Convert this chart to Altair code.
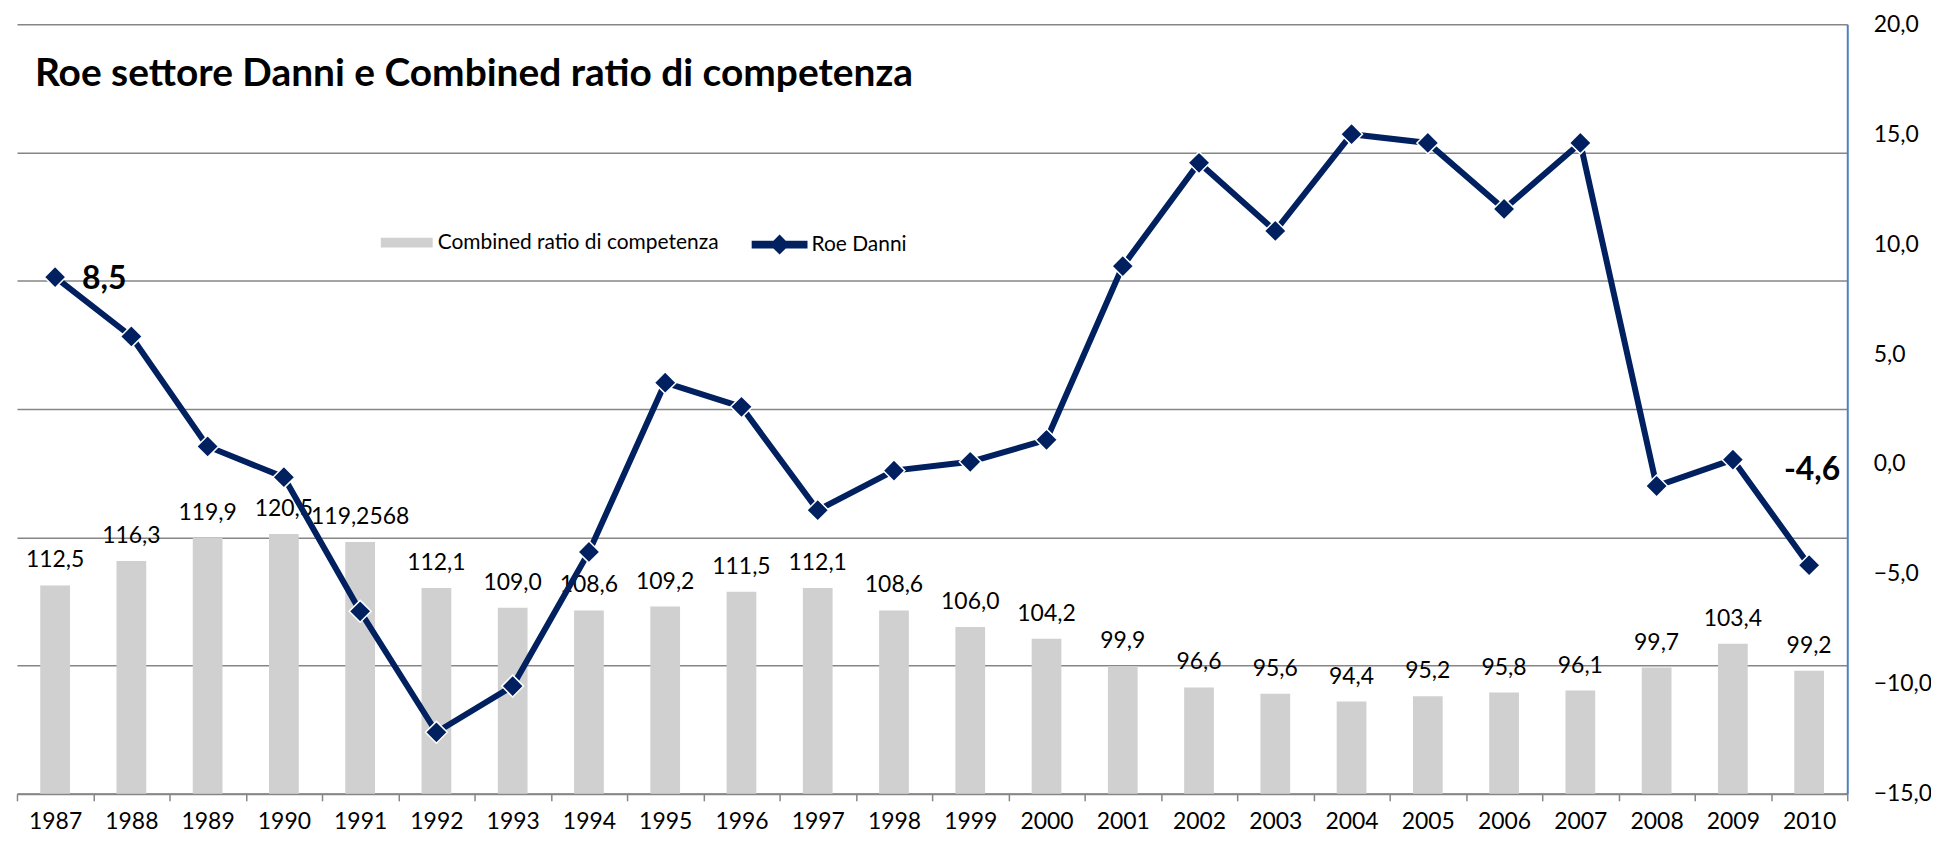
import altair as alt
import pandas as pd

years = [str(y) for y in range(1987, 2011)]
combined_ratio = [112.5, 116.3, 119.9, 120.5, 119.2568, 112.1, 109.0, 108.6, 109.2, 111.5, 112.1, 108.6,
                  106.0, 104.2, 99.9, 96.6, 95.6, 94.4, 95.2, 95.8, 96.1, 99.7, 103.4, 99.2]
combined_labels = ["112,5", "116,3", "119,9", "120,5", "119,2568", "112,1", "109,0", "108,6", "109,2",
                   "111,5", "112,1", "108,6", "106,0", "104,2", "99,9", "96,6", "95,6", "94,4", "95,2",
                   "95,8", "96,1", "99,7", "103,4", "99,2"]
roe = [8.5, 5.8, 0.8, -0.6, -6.7, -12.2, -10.1, -4.0, 3.7, 2.6, -2.1, -0.3, 0.1, 1.1, 9.0, 13.7,
       10.6, 15.0, 14.6, 11.6, 14.6, -1.0, 0.2, -4.6]
roe_labels = ["8,5"] + [""] * 22 + ["-4,6"]
right_ticks = [-15, -10, -5, 0, 5, 10, 15, 20]
grid_values = [80, 100, 120, 140, 160, 180, 200]
bar_base = 80

S1 = "Combined ratio di competenza"
S2 = "Roe Danni"
GRAY = "#D0D0D0"
NAVY = "#002060"
FONT = "Lato"

df = pd.DataFrame({
    "year": years,
    "cr": combined_ratio,
    "cr_label": combined_labels,
    "roe": roe,
    "roe_label": roe_labels,
    "s1": [S1] * len(years),
    "s2": [S2] * len(years),
})

x_enc = alt.X(
    "year:N",
    sort=years,
    title=None,
    scale=alt.Scale(paddingInner=0, paddingOuter=0),
    axis=alt.Axis(
        labelAngle=0, labelFont=FONT, labelFontSize=23, labelColor="black",
        labelPadding=10, tickBand="extent", tickSize=7, tickColor="#868686",
        tickWidth=1.5, domainColor="#868686", domainWidth=2, grid=False,
    ),
)

y_cr = alt.Y(
    "cr:Q",
    title=None,
    scale=alt.Scale(domain=[80, 200], zero=False, nice=False),
    axis=alt.Axis(values=grid_values, labels=False, ticks=False, domain=False,
                  grid=True, gridColor="#868686", gridWidth=1.5),
)

bar_legend_path = "M-1,-0.19H1V0.19H-1Z"
line_legend_path = ("M-1,-0.14H-0.22L0,-0.36L0.22,-0.14H1V0.14H0.22L0,0.36L-0.22,0.14H-1Z")

bars = alt.Chart(df).mark_bar(width=alt.RelativeBandSize(0.39)).encode(
    x=x_enc,
    y=y_cr,
    y2=alt.datum(bar_base),
    fill=alt.Fill(
        "s1:N", title=None,
        scale=alt.Scale(domain=[S1], range=[GRAY]),
        legend=alt.Legend(
            orient="none", legendX=365, legendY=193, symbolType=bar_legend_path,
            symbolSize=2704, symbolStrokeWidth=0, labelFont=FONT, labelFontSize=21,
            labelColor="black", labelOffset=5, labelLimit=0,
        ),
    ),
)

bar_text = alt.Chart(df).mark_text(
    baseline="alphabetic", dy=-18, font=FONT, fontSize=23, color="black"
).encode(x=x_enc, y=y_cr, text="cr_label:N")

y_roe = alt.Y(
    "roe:Q",
    title=None,
    scale=alt.Scale(domain=[-15, 20], nice=False, zero=False),
    axis=alt.Axis(orient="right", values=right_ticks, ticks=False, grid=False,
                  domainColor="#4F81BD", domainWidth=2,
                  labelExpr="replace(format(datum.value, '.1f'), '.', ',')",
                  labelFont=FONT, labelFontSize=23, labelColor="black", labelPadding=26,
                  labelAlign="left"),
)

line = alt.Chart(df).mark_line(color=NAVY, strokeWidth=6).encode(x=x_enc, y=y_roe)

points = alt.Chart(df).mark_point(
    shape="diamond", filled=True, size=480, stroke="white", strokeWidth=1.5, opacity=1
).encode(
    x=x_enc,
    y=y_roe,
    fill=alt.Fill(
        "s2:N", title=None,
        scale=alt.Scale(domain=[S2], range=[NAVY]),
        legend=alt.Legend(
            orient="none", legendX=737, legendY=193, symbolType=line_legend_path,
            symbolSize=3136, symbolStrokeWidth=0, labelFont=FONT, labelFontSize=21,
            labelColor="black", labelOffset=4, labelLimit=0,
        ),
    ),
)

first_label = alt.Chart(df).transform_filter(alt.datum.year == "1987").mark_text(
    align="left", baseline="middle", dx=27, dy=2, font=FONT, fontSize=32,
    fontWeight="bold", color="black"
).encode(x=x_enc, y=y_roe, text="roe_label:N")

last_label = alt.Chart(df).transform_filter(alt.datum.year == "2010").mark_text(
    align="center", baseline="middle", dx=3, dy=-95, font=FONT, fontSize=32,
    fontWeight="bold", color="black"
).encode(x=x_enc, y=y_roe, text="roe_label:N")

left = alt.layer(bars, bar_text)
right = alt.layer(line, points, first_label, last_label)

chart = alt.layer(left, right).resolve_scale(
    y="independent", fill="independent"
).properties(
    width=1836,
    height=772,
    title=alt.TitleParams(
        "Roe settore Danni e Combined ratio di competenza",
        anchor="start", frame="group", font=FONT, fontSize=39, fontWeight="bold",
        color="black", dx=18, dy=112, offset=0, baseline="alphabetic",
    ),
    padding={"left": 9, "top": 15, "right": 84, "bottom": 42},
    autosize=alt.AutoSizeParams(type="none"),
).configure_view(stroke=None)

chart.save("out.html", embed_options={"renderer": "svg", "actions": False})
